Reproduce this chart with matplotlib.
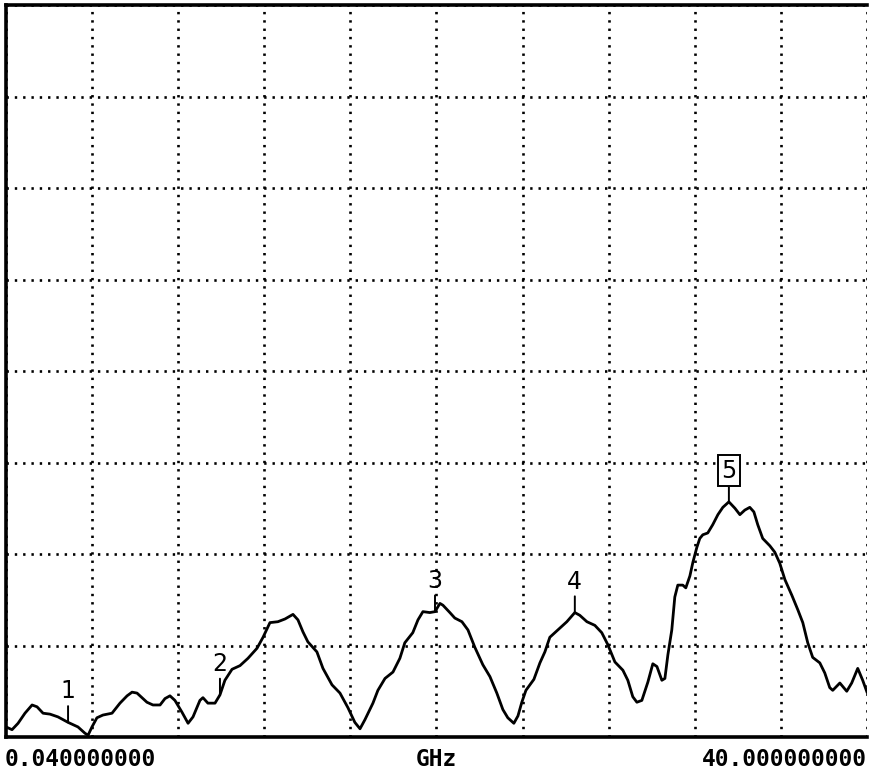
import numpy as np
import matplotlib
matplotlib.use('Agg')
import matplotlib.pyplot as plt

# trace: frequency (GHz) and level (grid divisions)
freq = [0.04, 0.32, 0.60, 0.92, 1.25, 1.48, 1.76, 2.08, 2.45, 2.92, 3.38, 3.71, 3.85,
        4.03, 4.26, 4.54, 4.96, 5.33, 5.66, 5.89, 6.12, 6.58, 6.86, 7.19, 7.42, 7.65,
        7.88, 8.21, 8.49, 8.72, 9.04, 9.18, 9.41, 9.74, 9.97, 10.20, 10.53, 10.90,
        11.27, 11.69, 11.97, 12.29, 12.66, 12.99, 13.36, 13.59, 13.82, 14.05, 14.47,
        14.75, 15.17, 15.54, 15.91, 16.23, 16.47, 16.70, 17.07, 17.30, 17.63, 18.00,
        18.32, 18.55, 18.92, 19.16, 19.39, 19.71, 19.95, 20.18, 20.32, 20.64, 20.87,
        21.20, 21.48, 21.80, 22.17, 22.50, 22.82, 23.10, 23.33, 23.61, 23.80, 23.98,
        24.17, 24.54, 24.82, 25.05, 25.28, 25.65, 26.07, 26.44, 26.67, 27.00, 27.37,
        27.69, 27.97, 28.30, 28.67, 28.90, 29.13, 29.32, 29.55, 29.83, 30.06, 30.25,
        30.48, 30.62, 30.76, 30.94, 31.08, 31.22, 31.45, 31.59, 31.78, 31.92, 32.10,
        32.24, 32.38, 32.61, 32.84, 33.08, 33.31, 33.59, 33.87, 34.10, 34.33, 34.56,
        34.75, 34.93, 35.16, 35.49, 35.72, 35.95, 36.19, 36.51, 36.79, 37.02, 37.25,
        37.48, 37.81, 38.04, 38.27, 38.41, 38.74, 39.06, 39.29, 39.57, 39.80, 40.00]
level = [0.11, 0.08, 0.15, 0.26, 0.35, 0.33, 0.26, 0.25, 0.22, 0.16, 0.11, 0.04, 0.02,
         0.11, 0.21, 0.24, 0.26, 0.37, 0.45, 0.49, 0.48, 0.38, 0.35, 0.35, 0.42, 0.45,
         0.40, 0.27, 0.15, 0.22, 0.40, 0.43, 0.37, 0.37, 0.46, 0.62, 0.74, 0.78,
         0.86, 0.97, 1.09, 1.25, 1.26, 1.29, 1.34, 1.28, 1.15, 1.04, 0.93,
         0.75, 0.57, 0.48, 0.32, 0.16, 0.09, 0.19, 0.37, 0.51, 0.64, 0.71,
         0.86, 1.03, 1.14, 1.28, 1.37, 1.36, 1.37, 1.46, 1.44, 1.36, 1.30,
         1.26, 1.17, 0.98, 0.79, 0.66, 0.48, 0.30, 0.21, 0.15, 0.23, 0.38,
         0.51, 0.63, 0.81, 0.93, 1.09, 1.17, 1.26, 1.36, 1.33, 1.26, 1.22,
         1.14, 1.01, 0.82, 0.73, 0.62, 0.44, 0.38, 0.40, 0.60, 0.80, 0.77,
         0.62, 0.64, 0.90, 1.17, 1.53, 1.66, 1.66, 1.63, 1.76, 1.91, 2.07,
         2.17, 2.21, 2.23, 2.32, 2.43, 2.51, 2.57, 2.50, 2.43, 2.48, 2.51,
         2.46, 2.32, 2.17, 2.09, 2.02, 1.90, 1.72, 1.55, 1.39, 1.25, 1.03,
         0.87, 0.81, 0.70, 0.54, 0.51, 0.59, 0.50, 0.59, 0.75, 0.62, 0.49]

marker_labels = ['1', '2', '3', '4', '5']
marker_freq = [2.92, 9.97, 19.95, 26.44, 33.59]
active_marker = '5'

f_start, f_stop = 0.04, 40.0
n_xdiv, n_ydiv = 10, 8

fig = plt.figure(figsize=(8.69, 7.74), dpi=100)
ax = fig.add_axes([6 / 869, 37 / 774, 861 / 869, 732 / 774])

ax.plot(freq, level, color='black', lw=2.0, solid_joinstyle='round')

ax.set_xlim(f_start, f_stop)
ax.set_ylim(0, n_ydiv)
ax.set_xticks(np.linspace(f_start, f_stop, n_xdiv + 1))
ax.set_yticks(np.arange(n_ydiv + 1))
ax.tick_params(length=0, labelbottom=False, labelleft=False)
ax.grid(True, color='black', lw=1.9, linestyle=(0, (0.9, 2.25)))

for side in ['left', 'top', 'bottom']:
    ax.spines[side].set_linewidth(2.6)
ax.spines['right'].set_visible(False)

lab_font = ['Liberation Sans Narrow', 'DejaVu Sans']
for lab, mf in zip(marker_labels, marker_freq):
    y = np.interp(mf, freq, level)
    box = None
    if lab == active_marker:
        box = dict(boxstyle='square,pad=0.15', fc='white', ec='black', lw=1.4)
    ax.annotate(lab, xy=(mf, y), xytext=(0, 19), textcoords='offset pixels',
                ha='center', va='bottom', fontsize=17, family=lab_font,
                bbox=box,
                arrowprops=dict(arrowstyle='-', color='black', lw=1.4,
                                shrinkA=0, shrinkB=0))

mono = dict(family='DejaVu Sans Mono', fontsize=16.5, fontweight='bold')
fig.text(5 / 869, 1 - 760 / 774, f'{f_start:.9f}', ha='left', va='center', **mono)
fig.text(436 / 869, 1 - 760 / 774, 'GHz', ha='center', va='center', **mono)
fig.text(867 / 869, 1 - 760 / 774, f'{f_stop:.9f}', ha='right', va='center', **mono)

fig.savefig('out.png', dpi=100)
